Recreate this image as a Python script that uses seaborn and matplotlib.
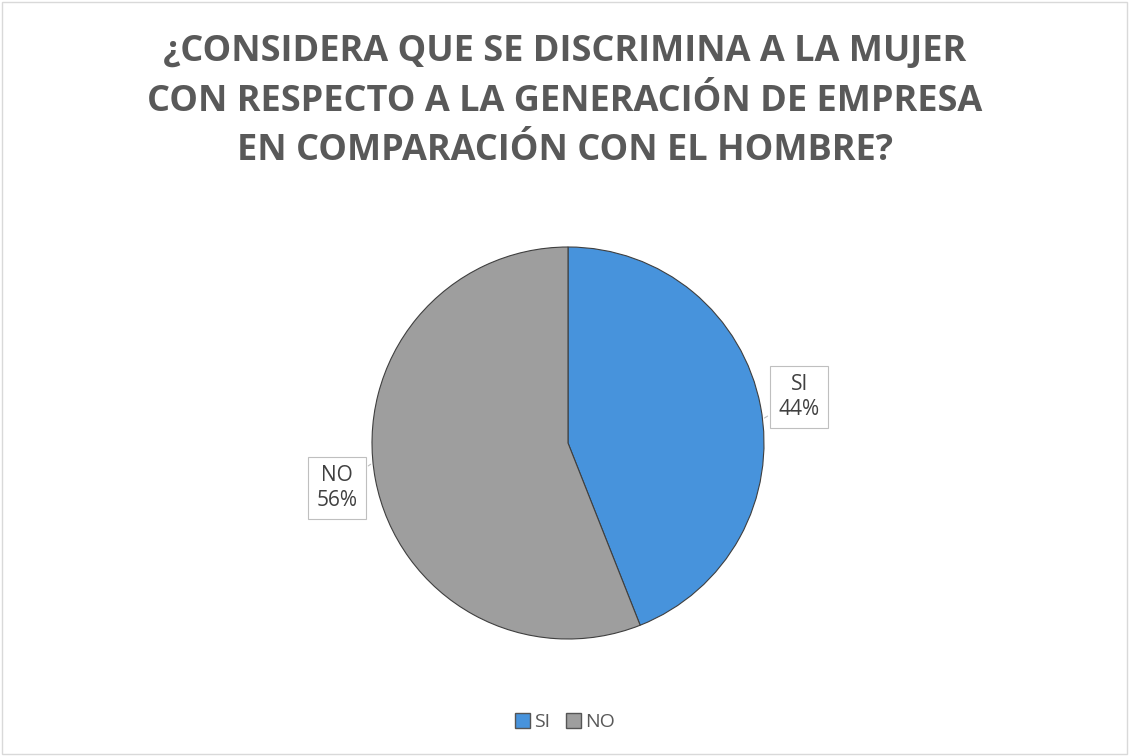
import matplotlib
matplotlib.use("Agg")
import matplotlib.pyplot as plt
import matplotlib.patches as mpatches
import seaborn as sns

# data
categories = ["SI", "NO"]
values = [44, 56]
colors = ["#4793DC", "#9E9E9E"]
title = "¿CONSIDERA QUE SE DISCRIMINA A LA MUJER\nCON RESPECTO A LA GENERACIÓN DE EMPRESA\nEN COMPARACIÓN CON EL HOMBRE?"

sns.set_theme(style="white")
plt.rcParams["font.family"] = ["Open Sans", "DejaVu Sans"]

fig = plt.figure(figsize=(11.3, 7.56), dpi=100)
fig.patch.set_facecolor("white")

# light border round the chart
fig.add_artist(mpatches.Rectangle((0.002, 0.003), 0.995, 0.994, transform=fig.transFigure,
                                  fill=False, edgecolor="#D9D9D9", linewidth=1))

fig.text(0.5, 0.955, title, ha="center", va="top", fontsize=26, fontweight="bold",
         color="#595959", linespacing=1.5)

# pie axes: center ~ (568, 443) px, radius ~196 px
W, H = 1130, 756
r = 196
cx, cy = 568, 443
ax = fig.add_axes([(cx - r) / W, (H - cy - r) / H, 2 * r / W, 2 * r / H])
wedges, _ = ax.pie(values, colors=colors, startangle=90, counterclock=False,
                   wedgeprops=dict(edgecolor="#3F3F3F", linewidth=0.8))
ax.set_xlim(-1, 1)
ax.set_ylim(-1, 1)
ax.set_aspect("equal")
ax.axis("off")

# data labels with callout boxes
label_pos = {"SI": (1.18, 0.235), "NO": (-1.18, -0.23)}
point_pos = {"SI": (0.99, 0.12), "NO": (-0.995, -0.1)}
for cat, val in zip(categories, values):
    ax.annotate(f"{cat}\n{val}%", xy=point_pos[cat], xytext=label_pos[cat],
                ha="center", va="center", fontsize=15, color="#404040", linespacing=1.25,
                bbox=dict(boxstyle="square,pad=0.4", fc="white", ec="#BFBFBF", lw=0.8),
                arrowprops=dict(arrowstyle="-", color="#BFBFBF", lw=0.8),
                annotation_clip=False)

handles = [mpatches.Patch(facecolor=c, edgecolor="#555555", label=l) for c, l in zip(colors, categories)]
fig.legend(handles=handles, loc="center", bbox_to_anchor=(0.5, 0.045), ncol=2, frameon=False,
           fontsize=14, handlelength=0.8, handleheight=0.8, handletextpad=0.2, columnspacing=0.8,
           labelcolor="#595959")

fig.savefig("out.png", dpi=100)
